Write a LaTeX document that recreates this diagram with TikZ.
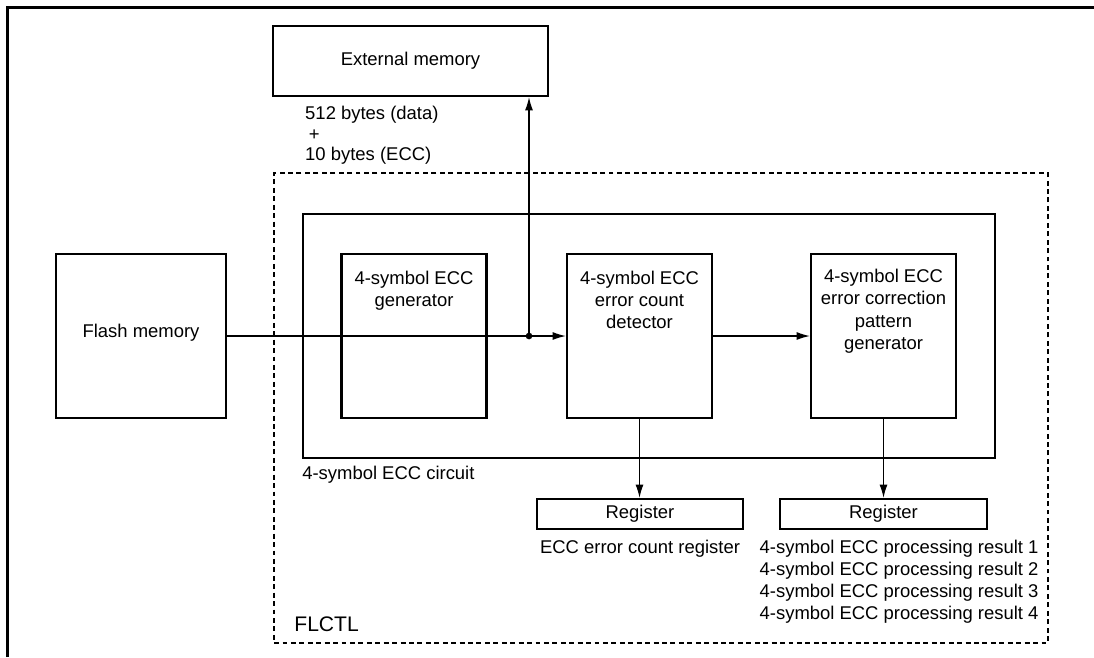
\documentclass[tikz,border=0pt]{standalone}
\usepackage{fontspec}
\setmainfont{Liberation Sans}
\usetikzlibrary{arrows.meta, positioning}

\begin{document}
\begin{tikzpicture}[x=0.02cm, y=-0.02cm,
  font=\fontsize{10.5}{12.7}\selectfont,
  box/.style={draw, line width=1.3pt, inner sep=0pt},
  regbox/.style={box, minimum width=4.13cm, minimum height=0.6cm},
  unit/.style={box, minimum width=2.9cm, minimum height=3.28cm},
  lbl/.style={inner sep=0pt},
  conn/.style={line width=0.7pt},
  arr/.style={conn, -{Latex[length=7.5pt, width=4.5pt]}}]

\useasboundingbox (0,0) rectangle (1094,657);

% Frame
\draw[line width=1.7pt] (7.5,657) -- (7.5,7.5) -- (1094,7.5);

% FLCTL
\node[box, line width=1.2pt, dash pattern=on 2.8pt off 2pt, minimum width=15.48cm, minimum height=9.4cm] (flctl) at (661,408) {};
\node[lbl, anchor=west, font=\fontsize{12}{14}\selectfont] (flctltxt) at ([xshift=0.42cm, yshift=0.4cm]flctl.south west) {FLCTL};

% Memories
\node[box, minimum width=5.5cm, minimum height=1.4cm] (ext) at (410.5,61) {External memory};
\node[box, minimum width=3.4cm, minimum height=3.28cm, text depth=0.2cm] (flash) at (141,336) {Flash memory};
\node[lbl, anchor=north west, align=left, font=\fontsize{10.5}{11.5}\selectfont] (extlbl) at ([xshift=0.66cm, yshift=-0.18cm]ext.south west)
  {512 bytes (data)\\\hspace*{0.2em}+\\10 bytes (ECC)};

% ECC circuit
\node[box, minimum width=13.84cm, minimum height=4.88cm,
  label={[lbl, anchor=north west, yshift=-0.14cm]south west:4-symbol ECC circuit}] (circ) at (649,336) {};
\node[unit, label={[lbl, align=center, anchor=north, yshift=-0.35cm]north:4-symbol ECC\\generator}] (gen) at (414,336) {};
\node[unit, label={[lbl, align=center, anchor=north, yshift=-0.35cm]north:4-symbol ECC\\error count\\detector}] (det) at (639.5,336) {};
\node[unit, label={[lbl, align=center, anchor=north, yshift=-0.32cm]north:4-symbol ECC\\error correction\\pattern\\generator}] (pat) at (883.5,336) {};

% Registers
\node[regbox] (reg1) at (640,514) {Register};
\node[regbox] (reg2) at (883.5,514) {Register};
\node[lbl, below=0.2cm of reg1] (reg1lbl) {ECC error count register};
\node[lbl, anchor=north east, align=right, font=\fontsize{10.5}{12.5}\selectfont] (reg2lbl) at ([xshift=1.02cm, yshift=-0.2cm]reg2.south east)
  {4-symbol ECC processing result 1\\4-symbol ECC processing result 2\\4-symbol ECC processing result 3\\4-symbol ECC processing result 4};

% Connections
\coordinate (jn) at (529,336);
\draw[arr] (flash.east |- jn) -- (det.west |- jn);
\draw[arr] (jn) -- (jn |- ext.south);
\fill (jn) circle (1.9pt);
\draw[arr] (det) -- (pat);
\draw[arr] (det.south) -- (det.south |- reg1.north);
\draw[arr] (pat.south) -- (pat.south |- reg2.north);

\end{tikzpicture}
\end{document}
